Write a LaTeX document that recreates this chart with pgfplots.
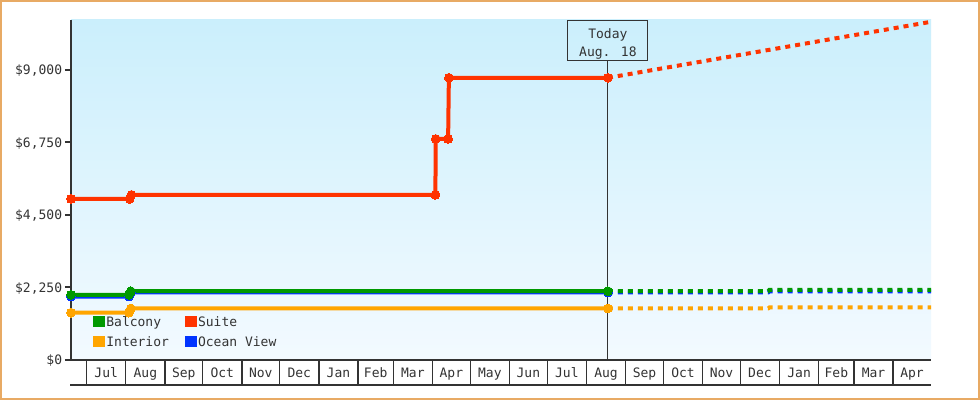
\documentclass[border=0pt]{standalone}
\usepackage{fontspec}
\setmainfont{DejaVu Sans Mono}
\usepackage{pgfplots}
\pgfplotsset{compat=1.18}
\definecolor{balcony}{RGB}{0,153,0}
\definecolor{suite}{RGB}{255,51,0}
\definecolor{interior}{RGB}{255,165,0}
\definecolor{ocean}{RGB}{0,51,255}
\definecolor{ink}{RGB}{51,51,51}
\definecolor{frameorange}{RGB}{232,170,100}
\definecolor{bgtop}{RGB}{203,239,252}
\definecolor{bgbot}{RGB}{243,250,255}
\newcommand{\chartfont}{\fontsize{13}{18}\selectfont}
\begin{document}
\begin{tikzpicture}
\useasboundingbox (0,0) rectangle (980pt,400pt);
\fill[white] (0,0) rectangle (980pt,400pt);
\draw[frameorange, line width=2pt] (1pt,1pt) rectangle (979pt,399pt);
\begin{axis}[
  at={(71pt,40pt)}, anchor=south west,
  scale only axis, width=860pt, height=340pt,
  xmin=-12.4, xmax=669, ymin=0, ymax=10550,
  clip=false,
  scaled y ticks=false,
  axis x line*=bottom, axis y line*=left,
  x axis line style={ink, line width=1.3pt, -},
  y axis line style={ink, line width=2pt, -},
  axis background/.style={top color=bgtop, bottom color=bgbot},
  tick align=outside, major tick length=6pt,
  ytick={0,2250,4500,6750,9000},
  yticklabels={\$0,{\$2,250},{\$4,500},{\$6,750},{\$9,000}},
  y tick style={ink, line width=2pt},
  x tick style={draw=none},
  xtick={15.5,46.5,77,107.5,138,168.5,199.5,229,258.5,289,319.5,350,380.5,411.5,442,472.5,503,533.5,564.5,594,623.5,654},
  xticklabels={Jul,Aug,Sep,Oct,Nov,Dec,Jan,Feb,Mar,Apr,May,Jun,Jul,Aug,Sep,Oct,Nov,Dec,Jan,Feb,Mar,Apr},
  tick label style={font=\chartfont, text=ink},
  yticklabel style={anchor=east, inner sep=0pt, xshift=-2.7pt, yshift=-0.8pt},
  xticklabel style={anchor=north, inner sep=0pt, text height=10pt, text depth=3pt, yshift=-0.8pt},
  mymark/.style={mark=*, mark size=4.4pt, mark options={line width=0pt, solid}},
  legend columns=2,
  legend style={at={(0.0259,0.130)}, anchor=north west, draw=none, fill=none,
    inner sep=0pt, outer sep=0pt, row sep=7pt, column sep=2pt,
    font=\chartfont, text=ink,
    cells={anchor=base west},
    nodes={inner sep=0pt, text height=10pt, text depth=3pt},
    /tikz/every even column/.append style={column sep=16pt}},
]
% month strip
\pgfplotsinvokeforeach{0,31,62,92,123,153,184,215,243,274,304,335,365,396,427,457,488,518,549,580,608,639}{
  \draw[ink, line width=1.3pt] (axis cs:#1,0) -- ++(0pt,-25pt);
}
\draw[ink, line width=1.3pt] (rel axis cs:0,0) ++(-1pt,-25pt) -- ++(861pt,0pt);
% today marker
\node[draw=ink, line width=1pt, minimum width=80pt, minimum height=40.5pt, inner sep=0pt, anchor=north] (today) at (axis cs:413,10550) {};
\node[font=\chartfont, text=ink, align=center, inner sep=0pt] at ([yshift=-3pt]today.center) {Today\\Aug. 18};
\draw[ink, line width=1pt] (today.south) -- (axis cs:413,0);
% Ocean View
\addplot[ocean, line width=4pt, mymark, forget plot]
  coordinates {(-12.4,1970) (33.5,1970) (35,2095) (413,2095)};
\addplot[ocean, line width=4pt, dash pattern=on 5pt off 5pt, forget plot]
  coordinates {(413,2095) (540,2095) (541,2126) (669,2126)};
% Balcony
\addplot[balcony, line width=4pt, mymark, forget plot]
  coordinates {(-12.4,2023) (33.5,2023) (35,2135) (413,2135)};
\addplot[balcony, line width=4pt, dash pattern=on 5pt off 5pt, forget plot]
  coordinates {(413,2135) (540,2135) (541,2178) (669,2178)};
% Interior
\addplot[interior, line width=4pt, mymark, forget plot]
  coordinates {(-12.4,1470) (33.5,1470) (35,1600) (413,1600)};
\addplot[interior, line width=4pt, dash pattern=on 5pt off 5pt, forget plot]
  coordinates {(413,1600) (540,1600) (541,1630) (669,1630)};
% Suite
\addplot[suite, line width=4pt, mymark, forget plot]
  coordinates {(-12.4,5000) (34,5000) (35.5,5125) (276.3,5125) (276.6,6860) (286.4,6860) (287,8757) (413,8757)};
\addplot[suite, line width=4pt, dash pattern=on 5pt off 5pt, forget plot]
  coordinates {(413,8757) (669,10494)};
% legend
\addlegendimage{legend image code/.code={\fill[balcony] (0pt,-0.2pt) rectangle (10.7pt,10pt);}}
\addlegendentry{Balcony}
\addlegendimage{legend image code/.code={\fill[suite] (0pt,-0.2pt) rectangle (10.7pt,10pt);}}
\addlegendentry{Suite}
\addlegendimage{legend image code/.code={\fill[interior] (0pt,-0.2pt) rectangle (10.7pt,10pt);}}
\addlegendentry{Interior}
\addlegendimage{legend image code/.code={\fill[ocean] (0pt,-0.2pt) rectangle (10.7pt,10pt);}}
\addlegendentry{Ocean View}
\end{axis}
\end{tikzpicture}
\end{document}
